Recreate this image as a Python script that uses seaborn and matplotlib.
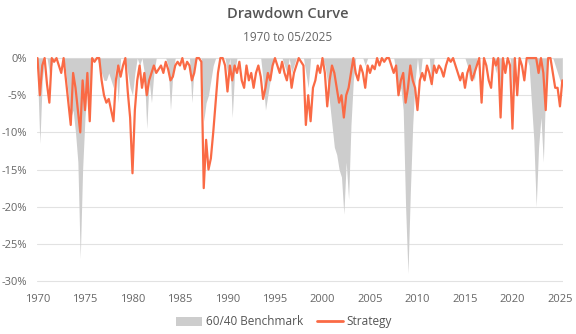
import numpy as np
import pandas as pd
import matplotlib
matplotlib.use("Agg")
import matplotlib.pyplot as plt
import seaborn as sns
from matplotlib.patches import Patch
from matplotlib.lines import Line2D

# Quarterly drawdowns (%), starting Q1 1970
strategy_1970s = [0, -5, -1, 0, -3.5, -6, 0, -0.5, 0, -1, -2, 0, -3, -6, -9, -2, -4, -7, -10, -3,
                  -7, -2, -8.5, 0, -0.5, 0, 0, -3, -5, -6, -5.5, -7, -8.5, -3, -1, -2.5, -1, 0, -4.5, -8]
strategy_1980s = [-15.5, -7, -3, -1, -4, -2, -5, -3, -2, -1, -2, -1.5, -1, -2, -0.5, -1.5, -3, -2.5, -1, -0.5,
                  -1, 0, -1.5, -0.5, -1, -3, -2, 0, 0, -0.5, -17.5, -11, -15, -13.5, -10, -6, -2, 0, 0, -1]
strategy_1990s = [-4.5, -1, -3, -1, -2, -0.5, -3, -4, -1, -3, -2, -4, -2, -1, -2.5, -5.5, -4, -2, -3, -1,
                  0, -1, -2, -0.5, -2, -3, -1, -4, -2, -1, 0, -0.5, -1, -9, -5, -8.5, -4, -3, -1, -2]
strategy_2000s = [0, -2, -6.5, -3, -1, -2, -4, -6, -5, -8, -5, -4, -2, 0, -2, -3, -1, -2, -4, -1,
                  -2, -1, -1.5, 0, -1, 0, -0.5, 0, 0, -1, -2, -1, -5, -3, -2, -6, -4, -1, -3, -4]
strategy_2010s = [-7, -3, -2, -3, -1, -2, -3.5, -1, -2, -1, -1.5, -2.5, -1, 0, -0.5, 0, -1, -2, -3, -2,
                  -4, -2, -1, -3, -2, -1, 0, -6, 0, -1, -3, -4, 0, -1, 0, -8, 0, -2, 0, -1]
strategy_2020s = [-9.5, 0, -5, 0, -1, -3, 0, 0, 0, 0, 0, -2, 0, -2, -7, 0, 0, -2, -4, -4, -6.5, -3]

benchmark_1970s = [-2, -11.5, -3, 0, 0, -2, -1, 0, 0, 0, 0, 0, -2, -5, -8, -7, -10, -14, -27, -15,
                   -8, -4, -6, 0, 0, 0, -1, -2, -3, -3, -2, -3, -4, -1, -6, 0, 0, 0, -2, -4]
benchmark_1980s = [-5, -2, 0, -1, 0, -2, -9.5, -3, -6, -2, 0, 0, 0, 0, 0, -1, -7, -2, 0, 0,
                   0, 0, 0, 0, 0, -6, -1, 0, 0, 0, -8.5, -6, -5, -3, -1, 0, 0, 0, 0, 0]
benchmark_1990s = [-2, 0, -8, -2, 0, 0, 0, 0, 0, 0, 0, 0, 0, 0, 0, -3, -7, -5, -3, -1,
                   0, 0, 0, 0, -1, -2, 0, -2, -1, 0, 0, 0, 0, -2, -4, 0, 0, 0, 0, 0]
benchmark_2000s = [0, -1, -3, -6, -9, -12, -13, -15, -16, -21, -14, -19, -9, -3, 0, 0, 0, 0, -1, 0,
                   0, 0, 0, 0, 0, 0, 0, 0, 0, 0, 0, -2, -5, -4, -7, -20, -29, -18, -9, -3]
benchmark_2010s = [0, -3, 0, 0, 0, 0, -4, 0, 0, 0, 0, 0, 0, 0, 0, 0, 0, 0, 0, 0,
                   0, -1, -3, -2, -3, 0, 0, 0, 0, 0, 0, 0, 0, -2, 0, -5, 0, 0, 0, 0]
benchmark_2020s = [-4, 0, 0, 0, 0, 0, 0, -1, -6, -11, -20, -12, -8, -14, -4, 0, 0, 0, -1, -2, -3, -4]

x_tick_years = [1970, 1975, 1980, 1985, 1990, 1995, 2000, 2005, 2010, 2015, 2020, 2025]
y_tick_values = [0, -5, -10, -15, -20, -25, -30]
series_names = ["60/40 Benchmark", "Strategy"]

strategy = strategy_1970s + strategy_1980s + strategy_1990s + strategy_2000s + strategy_2010s + strategy_2020s
benchmark = benchmark_1970s + benchmark_1980s + benchmark_1990s + benchmark_2000s + benchmark_2010s + benchmark_2020s
n = len(strategy)
df = pd.DataFrame({
    "year": 1970 + np.arange(n) / 4.0,
    "Strategy": strategy,
    "Benchmark": benchmark,
})

sns.set_theme(style="white")
plt.rcParams["font.family"] = ["Open Sans", "DejaVu Sans"]

ORANGE = "#FA6A45"
GRAY = "#CDCDCD"
TXT = "#666666"

fig = plt.figure(figsize=(5.76, 3.34), dpi=100)
fig.patch.set_facecolor("white")
ax = fig.add_axes([0.0651, 0.152, 0.9115, 0.683])

ax.fill_between(df["year"], df["Benchmark"], 0, color=GRAY, lw=0, zorder=2)
sns.lineplot(data=df, x="year", y="Strategy", ax=ax, color=ORANGE, lw=1.6, zorder=3)

ax.set_xlim(1970, 2025.27)
ax.set_ylim(-30.3, 0.4)
ax.set_xticks(x_tick_years)
ax.set_xticklabels([str(y) for y in x_tick_years])
ax.set_yticks(y_tick_values)
ax.set_yticklabels([f"{v}%" for v in y_tick_values])
ax.tick_params(axis="x", length=0, pad=8, labelsize=8, labelcolor=TXT)
ax.tick_params(axis="y", length=0, pad=7.5, labelsize=8, labelcolor=TXT)
ax.set_xlabel("")
ax.set_ylabel("")
for s in ax.spines.values():
    s.set_visible(False)
ax.yaxis.grid(True, color="#E2E2E2", lw=0.8)
ax.xaxis.grid(False)
ax.set_axisbelow(True)

fig.text(0.5, 1 - 14 / 334, "Drawdown Curve", ha="center", va="center", fontsize=10.5,
         fontweight="semibold", color="#555555")
fig.text(0.5, 1 - 37.5 / 334, "1970 to 05/2025", ha="center", va="center", fontsize=8.5, color=TXT)

handles = [Patch(facecolor=GRAY, edgecolor="none"), Line2D([0], [0], color=ORANGE, lw=2)]
leg = fig.legend(handles, series_names, loc="center", bbox_to_anchor=(0.493, 0.036),
                 ncol=2, frameon=False, fontsize=8.5, handlelength=2.2, handleheight=0.8,
                 handletextpad=0.3, columnspacing=1.2)
for t in leg.get_texts():
    t.set_color("#555555")

fig.savefig("out.png", dpi=100, facecolor="white")
